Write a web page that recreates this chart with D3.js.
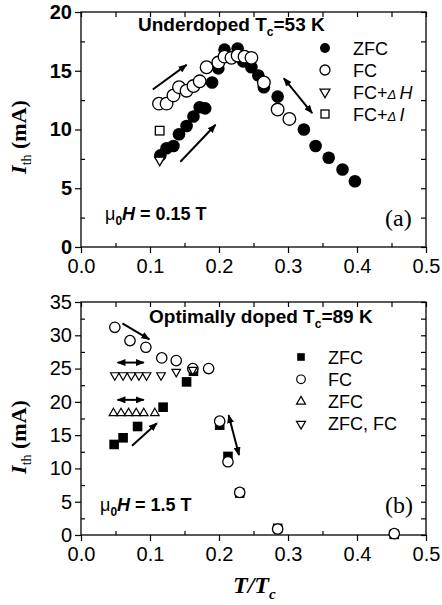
<!DOCTYPE html>
<html><head><meta charset="utf-8">
<script src="https://cdn.jsdelivr.net/npm/d3@7"></script>
<style>body{margin:0;background:#fff}</style>
</head><body><svg id="c" width="442" height="605"></svg>
<script>
// ---------- Panel (a): Underdoped Tc = 53 K ----------
const topZfcT = [0.115,0.124,0.134,0.142,0.153,0.163,0.172,0.180,0.190,0.199,0.208,0.227,0.235,0.247,0.257,0.265,0.285,0.323,0.340,0.359,0.379,0.397];
const topZfcI = [7.8,8.4,8.6,9.6,10.3,11.1,11.9,11.8,14.0,15.2,16.8,16.9,15.8,15.3,14.6,13.6,12.8,10.0,8.6,7.6,6.6,5.6];
const topFcT = [0.113,0.124,0.134,0.142,0.153,0.163,0.172,0.182,0.199,0.208,0.218,0.227,0.237,0.247,0.265,0.285,0.302];
const topFcI = [12.2,12.2,12.9,13.6,13.3,13.7,14.1,15.3,15.7,16.2,16.1,16.3,16.2,16.1,14.0,11.7,10.9];
const topDHT = [0.114], topDHI = [7.4];
const topDIT = [0.114], topDII = [9.9];
const topArrows = [
  {t1:0.104,i1:13.4,t2:0.153,i2:15.5,both:false},
  {t1:0.144,i1:7.26,t2:0.195,i2:10.4,both:false},
  {t1:0.294,i1:14.36,t2:0.335,i2:11.4,both:true}
];
const topYTicks = [0,5,10,15,20];

// ---------- Panel (b): Optimally doped Tc = 89 K ----------
const botZfcT = [0.048,0.061,0.082,0.119,0.153,0.163,0.201,0.213,0.230,0.285,0.454];
const botZfcI = [13.6,14.6,16.3,19.2,23.0,24.6,16.5,11.8,6.3,1.0,0.1];
const botFcT = [0.049,0.071,0.094,0.117,0.138,0.162,0.185,0.201,0.213,0.230,0.285,0.454];
const botFcI = [31.2,29.2,28.2,26.6,26.2,25.0,25.0,17.1,11.0,6.4,0.9,0.2];
const botUpT = [0.047,0.058,0.069,0.080,0.091,0.107];
const botUpI = [18.3,18.3,18.3,18.3,18.3,18.3];
const botDnT = [0.049,0.061,0.073,0.084,0.095,0.116,0.138,0.162];
const botDnI = [24.0,24.0,24.0,24.0,24.0,24.0,24.5,24.8];
const botArrows = [
  {t1:0.060,i1:31.8,t2:0.099,i2:29.4,both:false},
  {t1:0.053,i1:25.9,t2:0.091,i2:25.9,both:true},
  {t1:0.053,i1:20.3,t2:0.091,i2:20.3,both:true},
  {t1:0.074,i1:13.4,t2:0.110,i2:16.8,both:false},
  {t1:0.214,i1:18.0,t2:0.229,i2:12.0,both:true}
];
const botYTicks = [0,5,10,15,20,25,30,35];
const xTicks = [0,0.1,0.2,0.3,0.4,0.5];
const xMinor = [0.05,0.15,0.25,0.35,0.45];

const SANS = "'Liberation Sans', Arial, sans-serif";
const SERIF = "'Liberation Serif', 'Times New Roman', serif";

const svg = d3.select("#c");
const defs = svg.append("defs");
defs.append("marker").attr("id","ah").attr("viewBox","0 0 10 8").attr("refX",9).attr("refY",4)
  .attr("markerWidth",9).attr("markerHeight",7).attr("markerUnits","userSpaceOnUse").attr("orient","auto-start-reverse")
  .append("path").attr("d","M0,0L10,4L0,8Z").attr("fill","#000");

function tri(w, down){
  const h = w*0.866, s = down ? -1 : 1;
  return `M0,${-s*h*2/3}L${w/2},${s*h/3}L${-w/2},${s*h/3}Z`;
}

function panel(cfg){
  const x = d3.scaleLinear([0,0.5],[81,426]);
  const y = d3.scaleLinear([0,cfg.ymax],[cfg.y0,cfg.y1]);
  const g = svg.append("g");
  // frame
  g.append("rect").attr("x",81).attr("y",cfg.y1).attr("width",345).attr("height",cfg.y0-cfg.y1)
    .attr("fill","none").attr("stroke","#000").attr("stroke-width",1.3);
  const minorY = d3.range(cfg.yminor, cfg.ymax, cfg.ystep);
  // bottom axis
  const ax = g.append("g").attr("transform",`translate(0,${cfg.y0})`)
    .call(d3.axisBottom(x).tickValues(xTicks).tickFormat(d3.format(".1f")).tickSizeInner(6).tickSizeOuter(0).tickPadding(6));
  g.append("g").attr("transform",`translate(0,${cfg.y0})`)
    .call(d3.axisBottom(x).tickValues(xMinor).tickFormat("").tickSizeInner(-4).tickSizeOuter(0));
  // top frame ticks
  g.append("g").attr("transform",`translate(0,${cfg.y1})`)
    .call(d3.axisTop(x).tickValues(xTicks.concat(xMinor)).tickFormat("").tickSizeInner(-5).tickSizeOuter(0));
  // left axis
  g.append("g").attr("transform","translate(81,0)")
    .call(d3.axisLeft(y).tickValues(cfg.yticks).tickFormat(d3.format("d")).tickSizeInner(6).tickSizeOuter(0).tickPadding(3))
    .selectAll("text").attr("font-weight",cfg.ybold?"bold":"normal");
  g.append("g").attr("transform","translate(81,0)")
    .call(d3.axisLeft(y).tickValues(minorY).tickFormat("").tickSizeInner(-4).tickSizeOuter(0));
  // right frame ticks
  g.append("g").attr("transform","translate(426,0)")
    .call(d3.axisRight(y).tickValues(cfg.yticks.concat(minorY)).tickFormat("").tickSizeInner(-5).tickSizeOuter(0));
  g.selectAll(".domain").remove();
  g.selectAll(".tick line").attr("stroke","#000").attr("stroke-width",1.2);
  g.selectAll(".tick text").attr("font-family",SANS).attr("font-size",20).attr("fill","#000");
  // arrows
  g.selectAll("line.arr").data(cfg.arrows).join("line").attr("class","arr")
    .attr("x1",d=>x(d.t1)).attr("y1",d=>y(d.i1)).attr("x2",d=>x(d.t2)).attr("y2",d=>y(d.i2))
    .attr("stroke","#000").attr("stroke-width",2)
    .attr("marker-end","url(#ah)").attr("marker-start",d=>d.both?"url(#ah)":null);
  return {g,x,y};
}

// ===== Panel a =====
const A = panel({y0:247,y1:12,ymax:20,yticks:topYTicks,yminor:2.5,ystep:5,ybold:true,arrows:topArrows});
const ptsA = (T,I)=>T.map((t,k)=>[A.x(t),A.y(I[k])]);
A.g.append("g").selectAll("circle").data(ptsA(topZfcT,topZfcI)).join("circle")
  .attr("cx",d=>d[0]).attr("cy",d=>d[1]).attr("r",6.3).attr("fill","#000");
A.g.append("g").selectAll("circle").data(ptsA(topFcT,topFcI)).join("circle")
  .attr("cx",d=>d[0]).attr("cy",d=>d[1]).attr("r",6.3).attr("fill","#fff").attr("stroke","#000").attr("stroke-width",1.3);
A.g.append("g").selectAll("path").data(ptsA(topDHT,topDHI)).join("path")
  .attr("transform",d=>`translate(${d[0]},${d[1]})`).attr("d",tri(10,true)).attr("fill","#fff").attr("stroke","#000").attr("stroke-width",1.3);
A.g.append("g").selectAll("rect").data(ptsA(topDIT,topDII)).join("rect")
  .attr("x",d=>d[0]-4.3).attr("y",d=>d[1]-4.3).attr("width",8.6).attr("height",8.6).attr("fill","#fff").attr("stroke","#000").attr("stroke-width",1.3);

// title a
const ta = A.g.append("text").attr("x",138).attr("y",31).attr("font-family",SANS).attr("font-size",19).attr("font-weight","bold");
ta.append("tspan").text("Underdoped T");
ta.append("tspan").attr("font-size",12).attr("dy",5).text("c");
ta.append("tspan").attr("dy",-5).text("=53 K");
// legend a
const legA = [{lab:"ZFC",k:"fc"},{lab:"FC",k:"oc"},{lab:"FC+",k:"td",ex:"H"},{lab:"FC+",k:"sq",ex:"I"}];
legA.forEach((d,k)=>{
  const cy = 48 + k*22, cx = 325;
  if(d.k==="fc") A.g.append("circle").attr("cx",cx).attr("cy",cy).attr("r",5).attr("fill","#000");
  if(d.k==="oc") A.g.append("circle").attr("cx",cx).attr("cy",cy).attr("r",5).attr("fill","#fff").attr("stroke","#000").attr("stroke-width",1.3);
  if(d.k==="td") A.g.append("path").attr("transform",`translate(${cx},${cy})`).attr("d",tri(10,true)).attr("fill","#fff").attr("stroke","#000").attr("stroke-width",1.3);
  if(d.k==="sq") A.g.append("rect").attr("x",cx-4).attr("y",cy-4).attr("width",8).attr("height",8).attr("fill","#fff").attr("stroke","#000").attr("stroke-width",1.3);
  const t = A.g.append("text").attr("x",353).attr("y",cy+6.5).attr("font-family",SANS).attr("font-size",18);
  t.append("tspan").text(d.lab);
  if(d.ex){ t.append("tspan").attr("font-style","italic").attr("font-size",13).text("\u0394 ");
            t.append("tspan").attr("font-style","italic").text(d.ex); }
});
// mu0 H a
const ma = A.g.append("text").attr("x",105).attr("y",220).attr("font-family",SANS).attr("font-size",18).attr("font-weight","bold");
ma.append("tspan").attr("font-weight","normal").text("\u03bc");
ma.append("tspan").attr("font-size",12).attr("dy",5).text("0");
ma.append("tspan").attr("dy",-5).attr("font-style","italic").text("H");
ma.append("tspan").text(" = 0.15 T");
A.g.append("text").attr("x",385).attr("y",226).attr("font-family",SERIF).attr("font-size",24).text("(a)");

// ===== Panel b =====
const B = panel({y0:535,y1:302,ymax:35,yticks:botYTicks,yminor:2.5,ystep:5,ybold:false,arrows:botArrows});
const ptsB = (T,I)=>T.map((t,k)=>[B.x(t),B.y(I[k])]);
B.g.append("g").selectAll("rect").data(ptsB(botZfcT,botZfcI)).join("rect")
  .attr("x",d=>d[0]-4.8).attr("y",d=>d[1]-4.8).attr("width",9.6).attr("height",9.6).attr("fill","#000");
B.g.append("g").selectAll("path").data(ptsB(botUpT,botUpI)).join("path")
  .attr("transform",d=>`translate(${d[0]},${d[1]})`).attr("d",tri(8.6,false)).attr("fill","#fff").attr("stroke","#000").attr("stroke-width",1.2);
B.g.append("g").selectAll("circle").data(ptsB(botFcT,botFcI)).join("circle")
  .attr("cx",d=>d[0]).attr("cy",d=>d[1]).attr("r",5.2).attr("fill","#fff").attr("stroke","#000").attr("stroke-width",1.3);
B.g.append("g").selectAll("path").data(ptsB(botDnT,botDnI)).join("path")
  .attr("transform",d=>`translate(${d[0]},${d[1]})`).attr("d",tri(8.6,true)).attr("fill","#fff").attr("stroke","#000").attr("stroke-width",1.2);

const tb = B.g.append("text").attr("x",149).attr("y",323).attr("font-family",SANS).attr("font-size",19).attr("font-weight","bold");
tb.append("tspan").text("Optimally doped T");
tb.append("tspan").attr("font-size",12).attr("dy",5).text("c");
tb.append("tspan").attr("dy",-5).text("=89 K");
const legB = [{lab:"ZFC",k:"sq"},{lab:"FC",k:"oc"},{lab:"ZFC",k:"tu"},{lab:"ZFC, FC",k:"td"}];
legB.forEach((d,k)=>{
  const cy = 357 + k*22.3, cx = 301;
  if(d.k==="sq") B.g.append("rect").attr("x",cx-3.8).attr("y",cy-3.8).attr("width",7.6).attr("height",7.6).attr("fill","#000");
  if(d.k==="oc") B.g.append("circle").attr("cx",cx).attr("cy",cy).attr("r",4.3).attr("fill","#fff").attr("stroke","#000").attr("stroke-width",1.2);
  if(d.k==="tu") B.g.append("path").attr("transform",`translate(${cx},${cy})`).attr("d",tri(9,false)).attr("fill","#fff").attr("stroke","#000").attr("stroke-width",1.2);
  if(d.k==="td") B.g.append("path").attr("transform",`translate(${cx},${cy})`).attr("d",tri(9,true)).attr("fill","#fff").attr("stroke","#000").attr("stroke-width",1.2);
  B.g.append("text").attr("x",328).attr("y",cy+6.5).attr("font-family",SANS).attr("font-size",18).text(d.lab);
});
const mb = B.g.append("text").attr("x",100).attr("y",511).attr("font-family",SANS).attr("font-size",18).attr("font-weight","bold");
mb.append("tspan").attr("font-weight","normal").text("\u03bc");
mb.append("tspan").attr("font-size",12).attr("dy",5).text("0");
mb.append("tspan").attr("dy",-5).attr("font-style","italic").text("H");
mb.append("tspan").text(" = 1.5 T");
B.g.append("text").attr("x",385).attr("y",513).attr("font-family",SERIF).attr("font-size",24).text("(b)");

// y titles
[[137],[437]].forEach(([cy])=>{
  const t = svg.append("text").attr("transform",`translate(26,${cy}) rotate(-90)`).attr("text-anchor","middle")
    .attr("font-family",SERIF).attr("font-size",22).attr("font-weight","bold");
  t.append("tspan").attr("font-style","italic").text("I");
  t.append("tspan").attr("font-size",14).attr("font-weight","normal").attr("dy",5).text("th");
  t.append("tspan").attr("dy",-5).text(" (mA)");
});
// x title
const xt = svg.append("text").attr("x",233).attr("y",593).attr("font-family",SERIF).attr("font-size",24)
  .attr("font-weight","bold").attr("font-style","italic");
xt.append("tspan").text("T/T");
xt.append("tspan").attr("font-size",15).attr("dy",6).text("c");
</script></body></html>
